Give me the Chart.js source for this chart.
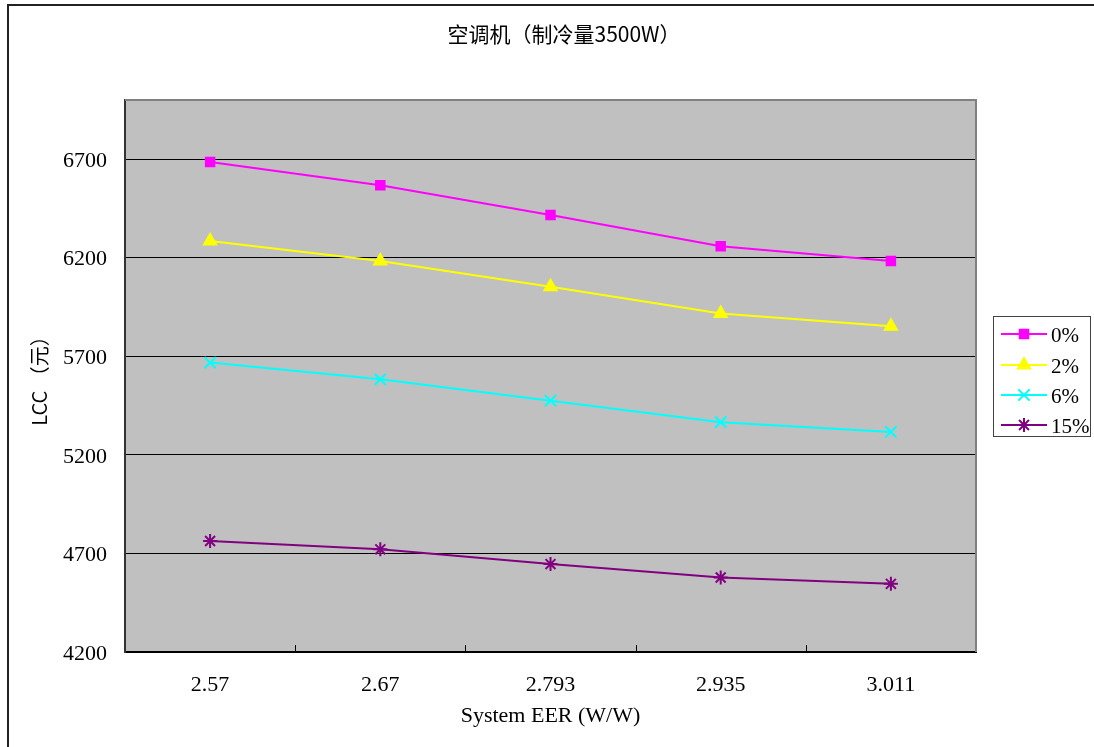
<!DOCTYPE html>
<html>
<head>
<meta charset="utf-8">
<script src="https://cdn.jsdelivr.net/npm/chart.js@4/dist/chart.umd.min.js"></script>
<style>
  html, body { margin: 0; padding: 0; background: #ffffff; }
  #wrap { width: 1094px; height: 747px; position: relative; }
</style>
</head>
<body>
<div id="wrap"><canvas id="c" width="1094" height="747"></canvas></div>
<script>
// Text
const chartTitle = '空调机（制冷量3500W）';
const xAxisTitle = 'System EER (W/W)';
const yAxisTitle = 'LCC （元）';

// Categories and tick values
const eerLabels = ['2.57', '2.67', '2.793', '2.935', '3.011'];
const yTicks = [4200, 4700, 5200, 5700, 6200, 6700];
const yMin = 4200;
const yMax = 7000;

// Series (LCC in yuan, by discount rate)
const seriesNames = ['0%', '2%', '6%', '15%'];
const lcc0 = [6685, 6568, 6417, 6258, 6183];
const lcc2 = [6285, 6183, 6053, 5917, 5852];
const lcc6 = [5668, 5583, 5475, 5366, 5316];
const lcc15 = [4763, 4721, 4646, 4578, 4546];

const serifFont = "'Liberation Serif', 'DejaVu Serif', serif";
const cjkFont = "'Noto Sans CJK SC', 'Noto Sans', sans-serif";

const styles = [
  { color: '#FF00FF', pointStyle: 'rect', radius: 6 },
  { color: '#FFFF00', pointStyle: 'triangle', radius: 7 },
  { color: '#00FFFF', pointStyle: 'crossRot', radius: 8 },
  { color: '#800080', pointStyle: 'star', radius: 7 }
];
const seriesData = [lcc0, lcc2, lcc6, lcc15];

const datasets = seriesData.map((d, i) => ({
  label: seriesNames[i],
  data: d,
  borderColor: styles[i].color,
  backgroundColor: styles[i].color,
  borderWidth: 2,
  pointStyle: styles[i].pointStyle,
  pointRadius: styles[i].radius,
  pointHoverRadius: styles[i].radius,
  pointBackgroundColor: styles[i].color,
  pointBorderColor: styles[i].color,
  pointBorderWidth: 2,
  tension: 0,
  fill: false
}));

// Plot background, frame, inward category ticks, outer frame, title and legend
const decorations = {
  id: 'decorations',
  beforeDraw(chart) {
    const { ctx, chartArea: a } = chart;
    ctx.save();
    ctx.fillStyle = '#ffffff';
    ctx.fillRect(0, 0, chart.width, chart.height);
    ctx.fillStyle = '#C0C0C0';
    ctx.fillRect(a.left, a.top, a.right - a.left, a.bottom - a.top);
    ctx.restore();
  },
  afterDraw(chart) {
    const { ctx, chartArea: a } = chart;
    const xs = chart.scales.x;
    ctx.save();

    // top and right edges of the plot frame
    ctx.strokeStyle = '#808080';
    ctx.lineWidth = 2;
    ctx.beginPath();
    ctx.moveTo(a.left, a.top);
    ctx.lineTo(a.right, a.top);
    ctx.lineTo(a.right, a.bottom);
    ctx.stroke();

    // inward tick marks between categories
    ctx.strokeStyle = '#000000';
    ctx.lineWidth = 1;
    ctx.beginPath();
    for (let i = 1; i < eerLabels.length; i++) {
      const x = Math.round((xs.getPixelForTick(i - 1) + xs.getPixelForTick(i)) / 2) + 0.5;
      ctx.moveTo(x, a.bottom);
      ctx.lineTo(x, a.bottom - 7);
    }
    ctx.stroke();

    // outer chart frame (left and top edges)
    ctx.strokeStyle = '#222222';
    ctx.lineWidth = 2;
    ctx.beginPath();
    ctx.moveTo(8, chart.height);
    ctx.lineTo(8, 5);
    ctx.lineTo(chart.width, 5);
    ctx.stroke();

    // title
    ctx.fillStyle = '#000000';
    ctx.font = '21px ' + cjkFont;
    ctx.textAlign = 'center';
    ctx.textBaseline = 'middle';
    ctx.fillText(chartTitle, 564, 34);

    // legend
    const box = { left: 993.5, top: 316.5, width: 97, height: 120 };
    ctx.fillStyle = '#ffffff';
    ctx.fillRect(box.left, box.top, box.width, box.height);
    ctx.strokeStyle = '#444444';
    ctx.lineWidth = 1;
    ctx.strokeRect(box.left, box.top, box.width, box.height);
    const rowY = [334, 365, 395, 425];
    chart.data.datasets.forEach((ds, i) => {
      const y = rowY[i];
      ctx.strokeStyle = ds.borderColor;
      ctx.lineWidth = 2;
      ctx.beginPath();
      ctx.moveTo(1001, y);
      ctx.lineTo(1047, y);
      ctx.stroke();
      ctx.fillStyle = ds.pointBackgroundColor;
      ctx.strokeStyle = ds.pointBorderColor;
      ctx.lineWidth = ds.pointBorderWidth;
      Chart.helpers.drawPoint(ctx, {
        pointStyle: ds.pointStyle,
        rotation: 0,
        radius: ds.pointRadius,
        borderWidth: ds.pointBorderWidth
      }, 1024, y);
      ctx.fillStyle = '#000000';
      ctx.font = '21px ' + serifFont;
      ctx.textAlign = 'left';
      ctx.textBaseline = 'middle';
      ctx.fillText(ds.label, 1051, y + 2);
    });

    ctx.restore();
  }
};

new Chart(document.getElementById('c'), {
  type: 'line',
  data: { labels: eerLabels, datasets },
  options: {
    responsive: false,
    devicePixelRatio: 1,
    animation: false,
    events: [],
    layout: { padding: { left: 0, top: 100, right: 118, bottom: 0 } },
    plugins: {
      legend: { display: false },
      title: { display: false },
      tooltip: { enabled: false }
    },
    scales: {
      x: {
        type: 'category',
        offset: true,
        afterFit(scale) { scale.height = 95; },
        grid: { display: false, drawTicks: false, offset: true },
        border: { display: true, color: '#000000', width: 2 },
        ticks: {
          color: '#000000',
          font: { family: serifFont, size: 22 },
          padding: 20,
          maxRotation: 0,
          autoSkip: false
        },
        title: {
          display: true,
          text: xAxisTitle,
          color: '#000000',
          font: { family: serifFont, size: 22 },
          padding: { top: 0, bottom: 18 }
        }
      },
      y: {
        type: 'linear',
        min: yMin,
        max: yMax,
        afterFit(scale) { scale.width = 125; },
        afterBuildTicks(scale) { scale.ticks = yTicks.map(v => ({ value: v })); },
        grid: { color: '#000000', lineWidth: 1, drawTicks: false },
        border: { display: true, color: '#333333', width: 2 },
        ticks: {
          color: '#000000',
          font: { family: serifFont, size: 22 },
          padding: 18,
          labelOffset: 2,
          callback: (v) => String(v)
        },
        title: {
          display: true,
          text: yAxisTitle,
          color: '#000000',
          font: { family: cjkFont, size: 20 },
          padding: { top: 27, bottom: 0 }
        }
      }
    }
  },
  plugins: [decorations]
});
</script>
</body>
</html>
